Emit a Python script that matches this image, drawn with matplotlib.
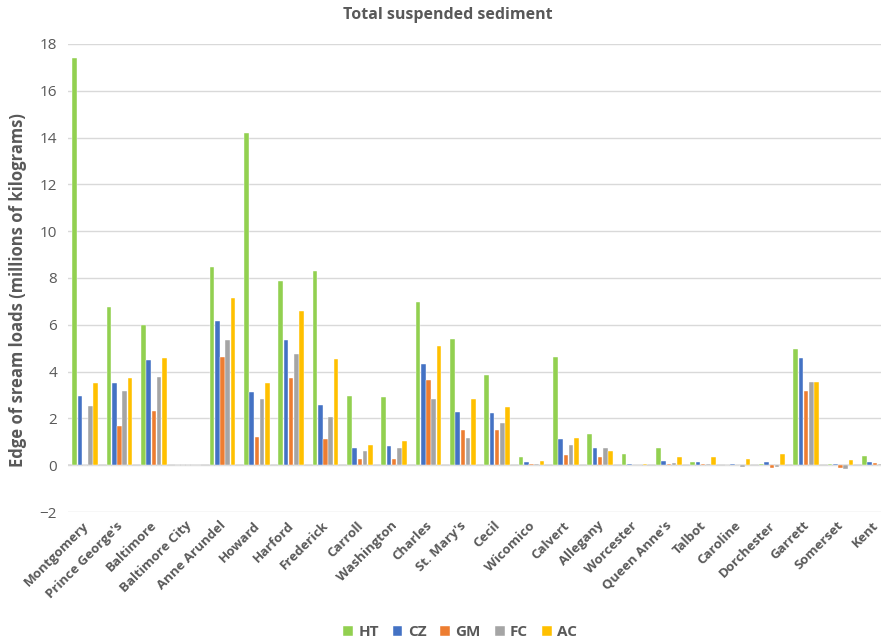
import matplotlib.pyplot as plt
import numpy as np

plt.rcParams['font.family'] = ['Open Sans', 'DejaVu Sans']

counties = ["Montgomery", "Prince George's", "Baltimore", "Baltimore City",
            "Anne Arundel", "Howard", "Harford", "Frederick", "Carroll",
            "Washington", "Charles", "St. Mary's", "Cecil", "Wicomico",
            "Calvert", "Allegany", "Worcester", "Queen Anne's", "Talbot",
            "Caroline", "Dorchester", "Garrett", "Somerset", "Kent"]

HT = [17.4, 6.75, 6.0, 0, 8.47, 14.2, 7.86, 8.29, 2.95, 2.92, 6.97, 5.41,
      3.85, 0.34, 4.64, 1.32, 0.48, 0.75, 0.13, 0.01, 0.07, 4.96, 0.03, 0.38]
CZ = [2.96, 3.53, 4.49, 0, 6.17, 3.13, 5.33, 2.56, 0.73, 0.83, 4.32, 2.29,
      2.25, 0.13, 1.14, 0.75, 0.03, 0.17, 0.13, 0.03, 0.13, 4.56, 0.03, 0.15]
GM = [0, 1.67, 2.31, 0, 4.62, 1.2, 3.73, 1.12, 0.27, 0.26, 3.62, 1.52,
      1.52, 0.04, 0.44, 0.36, 0, 0.06, 0.03, 0.0, -0.11, 3.15, -0.1, 0.1]
FC = [2.55, 3.16, 3.75, 0, 5.34, 2.81, 4.77, 2.04, 0.6, 0.73, 2.81, 1.18,
      1.81, 0.05, 0.88, 0.73, 0, 0.1, 0.07, -0.07, -0.09, 3.55, -0.16, 0.06]
AC = [3.53, 3.72, 4.6, 0, 7.14, 3.53, 6.57, 4.52, 0.87, 1.04, 5.09, 2.83,
      2.48, 0.16, 1.18, 0.6, 0.07, 0.33, 0.34, 0.28, 0.46, 3.56, 0.21, 0.1]

series = [("HT", HT, "#92D050"), ("CZ", CZ, "#4472C4"), ("GM", GM, "#ED7D31"),
          ("FC", FC, "#A5A5A5"), ("AC", AC, "#FFC000")]

txt = "#595959"
fig = plt.figure(figsize=(8.81, 6.44), dpi=100)
ax = fig.add_axes([68/881, 1 - 512/644, 824/881, 468/644])

x = np.arange(len(counties))
step = 0.152
for i, (name, vals, col) in enumerate(series):
    ax.bar(x + (i - 2) * step, vals, width=0.135, color=col, label=name,
           edgecolor="white", linewidth=0.3, zorder=3)

ax.set_xlim(-0.5, len(counties) - 0.5)
ax.set_ylim(-2, 18)
ax.set_yticks(np.arange(-2, 19, 2))
ax.set_yticklabels(["\u22122"] + [str(v) for v in range(0, 19, 2)])
ax.grid(axis="y", color="#D9D9D9", linewidth=1, zorder=0)
ax.axhline(0, color="#D9D9D9", linewidth=1.2, zorder=2)
for s in ax.spines.values():
    s.set_visible(False)
ax.tick_params(axis="y", length=0, labelsize=11, labelcolor=txt, pad=8)
ax.set_xticks([])

# county names, rotated below the plot area
for xi, name in zip(x, counties):
    ax.text(xi - 0.1, -2.3, name, rotation=45, ha="right", va="top",
            rotation_mode="anchor", fontsize=9.5, fontweight="bold",
            color=txt)

fig.text(448/881, 1 - 15/644, "Total suspended sediment", ha="center",
         va="center", fontsize=11.5, fontweight="bold", color=txt)
fig.text(18/881, 1 - 290/644, "Edge of sream loads (millions of kilograms)",
         rotation=90, ha="center", va="center", fontsize=12,
         fontweight="bold", color=txt)

leg = fig.legend(loc="center", bbox_to_anchor=(460/881, 1 - 632/644), ncol=5,
                 frameon=False, handlelength=0.65, handleheight=0.65,
                 handletextpad=0.35, columnspacing=0.9,
                 prop={"weight": "bold", "size": 11})
for t in leg.get_texts():
    t.set_color(txt)

fig.savefig("out.png", dpi=100)
